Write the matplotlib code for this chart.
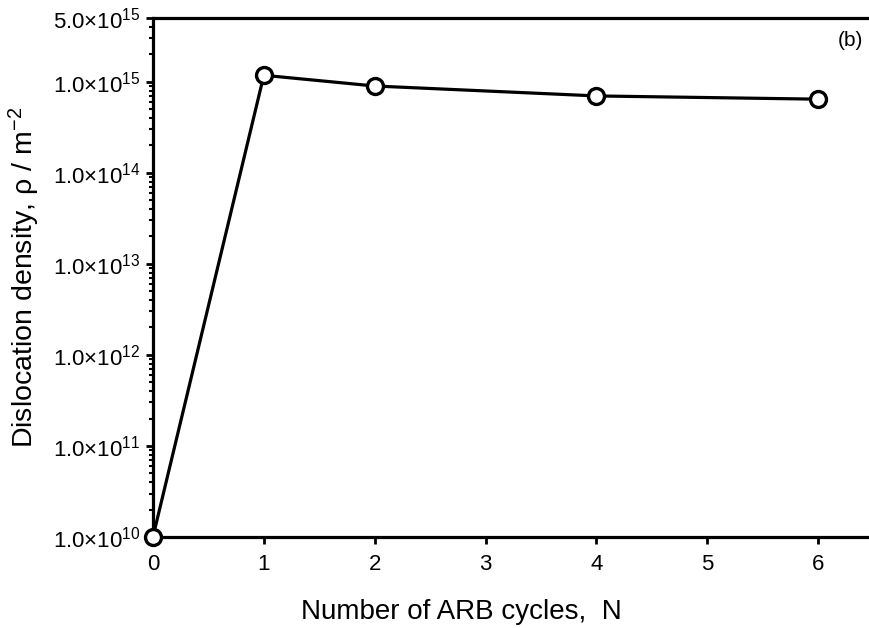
import numpy as np
import matplotlib.pyplot as plt
from matplotlib.ticker import LogLocator, FixedLocator, NullFormatter

plt.rcParams['font.family'] = ['Liberation Sans', 'DejaVu Sans']
plt.rcParams['mathtext.fontset'] = 'custom'
plt.rcParams['mathtext.rm'] = 'Liberation Sans'
plt.rcParams['mathtext.it'] = 'Liberation Sans:italic'
plt.rcParams['mathtext.bf'] = 'Liberation Sans:bold'

# --- datos ---
cycles = [0, 1, 2, 4, 6]
density = [1.0e10, 1.18e15, 0.90e15, 0.70e15, 0.645e15]
ytick_vals = [1e10, 1e11, 1e12, 1e13, 1e14, 1e15, 5e15]
ytick_labels = [r'1.0×10$^{10}$', r'1.0×10$^{11}$', r'1.0×10$^{12}$', r'1.0×10$^{13}$',
                r'1.0×10$^{14}$', r'1.0×10$^{15}$', r'5.0×10$^{15}$']
xtick_vals = [0, 1, 2, 3, 4, 5, 6]

fig = plt.figure(figsize=(8.69, 6.28), dpi=100)
ax = fig.add_axes([0.176, 0.145, 0.823, 0.826])

ax.plot(cycles, density, '-o', color='black', lw=2.3, ms=11.5,
        markerfacecolor='white', markeredgecolor='black', markeredgewidth=2.4,
        clip_on=False, zorder=5)

ax.set_yscale('log')
ax.set_ylim(1e10, 5e15)
ax.set_xlim(0, 6.45)

ax.yaxis.set_major_locator(FixedLocator(ytick_vals))
ax.set_yticklabels(ytick_labels)
ax.yaxis.set_minor_locator(LogLocator(base=10, subs=np.arange(2, 10), numticks=20))
ax.yaxis.set_minor_formatter(NullFormatter())
ax.set_xticks(xtick_vals)

ax.tick_params(axis='both', which='major', direction='out', length=5, width=2,
               labelsize=16, pad=4)
ax.tick_params(axis='y', which='minor', direction='out', length=3, width=1.5)
ax.tick_params(axis='x', pad=7)

for side in ['left', 'bottom', 'top']:
    ax.spines[side].set_linewidth(2.3)
ax.spines['right'].set_visible(False)

ax.set_xlabel('Number of ARB cycles,  N', fontsize=20, labelpad=15)
ax.xaxis.set_label_coords(0.431, -0.12)
ax.set_ylabel(r'Dislocation density, ρ / m$^{-2}$', fontsize=20.5, labelpad=8)

ax.text(0.993, 0.975, '(b)', transform=ax.transAxes, ha='right', va='top', fontsize=15)

plt.savefig('out.png', dpi=100)
